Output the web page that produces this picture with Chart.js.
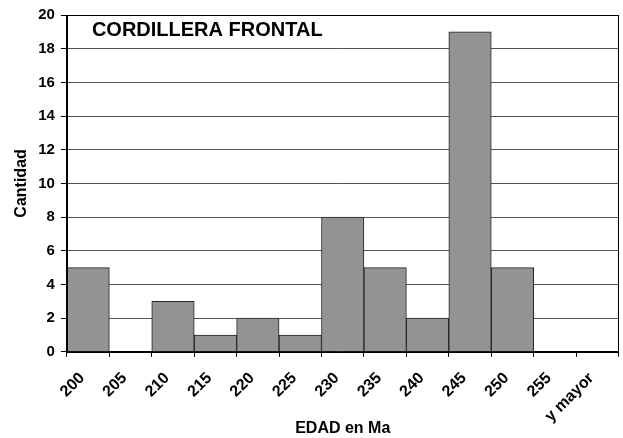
<!DOCTYPE html>
<html>
<head>
<meta charset="utf-8">
<script src="https://cdn.jsdelivr.net/npm/chart.js@4/dist/chart.umd.min.js"></script>
<style>
  body { margin: 0; background: #fff; }
  #chart { display: block; }
</style>
</head>
<body>
<canvas id="chart" width="623" height="438"></canvas>
<script>
// histogram bins and counts
var edades = ['200', '205', '210', '215', '220', '225', '230', '235', '240', '245', '250', '255', 'y mayor'];
var cantidad = [5, 0, 3, 1, 2, 1, 8, 5, 2, 19, 5, 0, 0];
var chartTitle = 'CORDILLERA FRONTAL';

var fontFam = '"Liberation Sans", Arial, sans-serif';

// title inside the plot + frame around the chart area
var framePlugin = {
  id: 'frame',
  afterDraw: function(chart) {
    var ctx = chart.ctx, a = chart.chartArea;
    ctx.save();
    ctx.strokeStyle = '#000';
    ctx.lineWidth = 1;
    ctx.strokeRect(Math.round(a.left) + 0.5, Math.round(a.top) + 0.5, Math.round(a.right - a.left) - 1, Math.round(a.bottom - a.top));
    ctx.fillStyle = '#000';
    ctx.font = 'bold 20px ' + fontFam;
    ctx.textBaseline = 'middle';
    ctx.fillText(chartTitle, a.left + 25, a.top + 15);
    ctx.restore();
  }
};

var Cnvs = document.getElementById('chart');
var histChart = new Chart(Cnvs, {
  type: 'bar',
  data: {
    labels: edades,
    datasets: [{
      data: cantidad,
      backgroundColor: '#939393',
      borderColor: '#222',
      borderWidth: 1,
      barPercentage: 1,
      categoryPercentage: 1
    }]
  },
  options: {
    responsive: false,
    animation: false,
    layout: { padding: { top: -2, right: 2, left: 12, bottom: 0 } },
    plugins: {
      legend: { display: false },
      tooltip: { enabled: false }
    },
    scales: {
      x: {
        grid: { drawOnChartArea: false, drawTicks: true, tickLength: 5, color: '#000', offset: true },
        border: { color: '#000' },
        ticks: {
          color: '#000',
          font: { family: fontFam, size: 16, weight: 'bold' },
          maxRotation: 45, minRotation: 45,
          padding: 12,
          labelOffset: -6
        },
        title: {
          display: true, text: 'EDAD en Ma', color: '#000',
          font: { family: fontFam, size: 16, weight: 'bold' },
          padding: { top: -19, bottom: 0 }
        }
      },
      y: {
        min: 0, max: 20,
        grid: { color: '#555', tickLength: 6, tickColor: '#000' },
        border: { color: '#000' },
        ticks: {
          stepSize: 2, color: '#000',
          font: { family: fontFam, size: 15, weight: 'bold' },
          padding: 6
        },
        title: {
          display: true, text: 'Cantidad', color: '#000',
          font: { family: fontFam, size: 16, weight: 'bold' },
          padding: { top: 0, bottom: 1 }
        }
      }
    }
  },
  plugins: [framePlugin]
});
</script>
</body>
</html>
